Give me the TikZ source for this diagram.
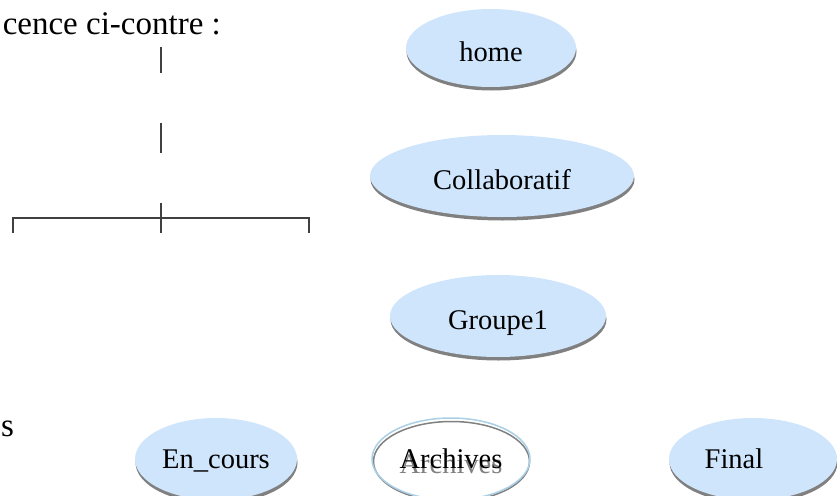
\documentclass[tikz,border=0pt]{standalone}
\usepackage{fontspec}
\setmainfont{Liberation Serif}
\usetikzlibrary{shapes.geometric,shadows}
\definecolor{nodefill}{HTML}{CFE5FC}
\definecolor{shadowgray}{HTML}{808080}
\definecolor{rimblue}{HTML}{A9D0E5}
\definecolor{linegray}{HTML}{404040}
\begin{document}
\begin{tikzpicture}[x=1pt,y=-1pt,
  nodefont/.style={font=\fontsize{28.5}{30}\selectfont},
  bubble/.style={ellipse, fill=nodefill, inner sep=0pt, nodefont, text depth=0pt,
    general shadow={fill=shadowgray, shadow xshift=0.5pt, shadow yshift=-3.5pt}},
  upper/.style={text height=27pt},
  lower/.style={text height=19.5pt},
  treeline/.style={draw=linegray, line width=1.5pt}]
\useasboundingbox (0,0) rectangle (837,495);

% page text fragments
\node[anchor=base east, font=\fontsize{33}{35}\selectfont, inner sep=0pt] (caption) at (221,35) {cence ci-contre :};
\node[anchor=base west, font=\fontsize{33}{35}\selectfont, inner sep=0pt] (sfrag) at (1,436) {s};

% tree lines on the left
\coordinate (v1a) at (161,47);  \coordinate (v1b) at (161,73);
\coordinate (v2a) at (161,123); \coordinate (v2b) at (161,153);
\coordinate (v3a) at (161,203); \coordinate (v3b) at (161,233);
\coordinate (hl) at (13,218);   \coordinate (hr) at (309,218);
\coordinate (hld) at (13,233);  \coordinate (hrd) at (309,233);
\draw[treeline] (v1a) -- (v1b);
\draw[treeline] (v2a) -- (v2b);
\draw[treeline] (v3a) -- (v3b);
\draw[treeline] (hld) -- (hl) -- (hr) -- (hrd);

% ellipses
\node[bubble, upper, minimum width=170pt, minimum height=78pt] (home) at (491,48) {home};
\node[bubble, upper, minimum width=264pt, minimum height=82pt] (collab) at (502,176) {Collaboratif};
\node[bubble, upper, minimum width=216pt, minimum height=82pt] (groupe) at (498,316) {Groupe1};
\node[bubble, lower, minimum width=162pt, minimum height=82pt] (encours) at (216,459) {En\_cours};
\node[bubble, lower, minimum width=168pt, minimum height=82pt] (final) at (753,459) {\hspace*{-38pt}Final};

% Archives: outline only, with shadowed outline and shadowed text
\node[ellipse, draw=shadowgray, line width=1.5pt, minimum width=156pt, minimum height=80pt, inner sep=0pt] (archrim) at (451.5,461.5) {};
\node[ellipse, draw=rimblue, line width=1.5pt, minimum width=158pt, minimum height=82pt, inner sep=0pt] (archives) at (451,459) {};
\node[nodefont, lower, text depth=0pt, text=shadowgray, inner sep=0pt] (archtextshadow) at (451,464) {Archives};
\node[nodefont, lower, text depth=0pt, inner sep=0pt] (archtext) at (451,459) {Archives};
\end{tikzpicture}
\end{document}
